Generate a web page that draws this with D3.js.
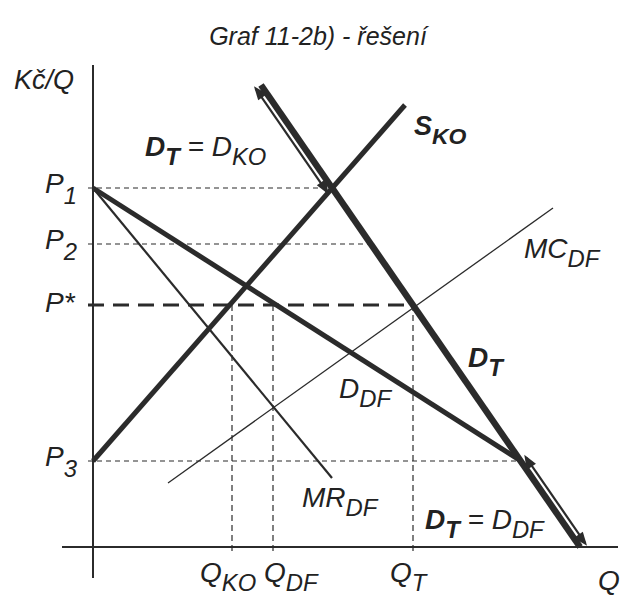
<!DOCTYPE html>
<html>
<head>
<meta charset="utf-8">
<script src="https://cdn.jsdelivr.net/npm/d3@7"></script>
<style>
  body { margin: 0; background: #fff; }
  text { font-family: "Liberation Sans", Arial, sans-serif; font-style: italic; fill: #222; }
</style>
</head>
<body>
<svg id="graf"></svg>
<script>
// price levels (Kč/Q) and quantities
var priceNames = ["1", "2", "*", "3"];
var priceLevels = [71.8, 60.6, 48.4, 17.2];
var quantityNames = ["KO", "DF", "T"];
var quantityLevels = [27.8, 36, 64];

// curves as [Q, Kč/Q] end points
var supplyKO = [[0, 17.2], [62.4, 88.4]];
var demandT = [[33.6, 92.4], [97.4, 0]];
var demandDF = [[0, 71.8], [85.6, 17.2]];
var mrDF = [[0, 71.8], [47.8, 13.8]];
var mcDF = [[15, 12.8], [92, 67.8]];

var ink = "#2b2b2b";

function graf() {
    var width = 620, height = 595;
    var svg = d3.select("#graf").attr("width", width).attr("height", height);

    var x = d3.scaleLinear().domain([0, 100]).range([93, 593]);
    var y = d3.scaleLinear().domain([0, 100]).range([547, 47]);
    var line = d3.line().x(function (d) { return x(d[0]); }).y(function (d) { return y(d[1]); });

    // Q on a straight curve for a given price
    function qOn(c, p) {
        return c[0][0] + (p - c[0][1]) * (c[1][0] - c[0][0]) / (c[1][1] - c[0][1]);
    }

    // axes
    svg.append("line").attr("x1", x(0)).attr("x2", x(0)).attr("y1", 65).attr("y2", 578)
       .attr("stroke", ink).attr("stroke-width", 2);
    svg.append("line").attr("x1", 62).attr("x2", 618).attr("y1", y(0)).attr("y2", y(0))
       .attr("stroke", ink).attr("stroke-width", 2);

    // horizontal guides
    svg.selectAll(".hguide").data(priceLevels).enter().append("line")
       .attr("class", "hguide")
       .attr("x1", x(-1))
       .attr("x2", function (p) { return x(qOn(demandT, p)); })
       .attr("y1", function (p) { return y(p); })
       .attr("y2", function (p) { return y(p); })
       .attr("stroke", ink)
       .attr("stroke-width", function (p, i) { return i == 2 ? 2.8 : 1.1; })
       .attr("stroke-dasharray", function (p, i) { return i == 2 ? "16,9" : "5,4"; });

    // vertical guides down from P*
    svg.selectAll(".vguide").data(quantityLevels).enter().append("line")
       .attr("class", "vguide")
       .attr("x1", function (q) { return x(q); })
       .attr("x2", function (q) { return x(q); })
       .attr("y1", y(priceLevels[2]))
       .attr("y2", y(-1.6))
       .attr("stroke", ink).attr("stroke-width", 1.2).attr("stroke-dasharray", "6,4");

    // thin curves
    svg.append("path").attr("d", line(mcDF)).attr("fill", "none").attr("stroke", ink).attr("stroke-width", 1.3);
    svg.append("path").attr("d", line(mrDF)).attr("fill", "none").attr("stroke", ink).attr("stroke-width", 2.2);

    // thick curves
    svg.append("path").attr("d", line(supplyKO)).attr("fill", "none").attr("stroke", ink).attr("stroke-width", 5);
    svg.append("path").attr("d", line(demandDF)).attr("fill", "none").attr("stroke", ink).attr("stroke-width", 5);
    svg.append("path").attr("d", line(demandT)).attr("fill", "none").attr("stroke", ink).attr("stroke-width", 6.5);

    // double arrows along D_T
    function doubleArrow(pFrom, pTo, side) {
        var a = [x(qOn(demandT, pFrom)), y(pFrom)];
        var b = [x(qOn(demandT, pTo)), y(pTo)];
        var dx = b[0] - a[0], dy = b[1] - a[1], len = Math.hypot(dx, dy);
        var ux = dx / len, uy = dy / len;
        var nx = -uy * side, ny = ux * side;
        var off = 6.5;
        var a2 = [a[0] + nx * off, a[1] + ny * off], b2 = [b[0] + nx * off, b[1] + ny * off];
        svg.append("line").attr("x1", a2[0]).attr("y1", a2[1]).attr("x2", b2[0]).attr("y2", b2[1])
           .attr("stroke", ink).attr("stroke-width", 2.2);
        function head(e, dir) {
            var tip = [e[0] + ux * dir * 3, e[1] + uy * dir * 3];
            var bc = [e[0] - ux * dir * 11, e[1] - uy * dir * 11];
            var pts = [tip, [bc[0] + nx * 4.5, bc[1] + ny * 4.5], [bc[0] - nx * off, bc[1] - ny * off]];
            svg.append("path").attr("d", "M" + pts.join("L") + "Z").attr("fill", ink);
        }
        head(a2, -1);
        head(b2, 1);
    }
    doubleArrow(demandT[0][1], priceLevels[0], 1);
    doubleArrow(priceLevels[3], 0, -1);

    // text with subscripts, parts: [text, sub, bold]
    function label(x0, y0, parts, size, drop) {
        drop = drop || 9;
        var t = svg.append("text").attr("x", x0).attr("y", y0).style("font-size", size + "px");
        var down = false;
        parts.forEach(function (pt) {
            var s = t.append("tspan").text(pt[0]);
            if (pt[1] && !down) { s.attr("dy", drop); down = true; }
            else if (!pt[1] && down) { s.attr("dy", -drop); down = false; }
            if (pt[1]) s.style("font-size", (size * 0.85) + "px");
            if (pt[2]) s.style("font-weight", "bold");
        });
        return t;
    }

    svg.append("text").attr("x", 318).attr("y", 45).attr("text-anchor", "middle")
       .style("font-size", "25px").text("Graf 11-2b) - řešení");
    label(14, 89, [["Kč/Q"]], 27);

    priceLevels.forEach(function (p, i) {
        if (priceNames[i] == "*") label(45, y(p) + 7, [["P*"]], 28);
        else label(45, y(p) + 5, [["P"], [priceNames[i], true]], 28, 11);
    });

    var qStart = [200, 264, 390];
    quantityLevels.forEach(function (q, i) {
        label(qStart[i], 582, [["Q"], [quantityNames[i], true]], 28, 9);
    });
    label(598, 590, [["Q"]], 28);

    label(145, 156, [["D", false, true], ["T", true, true], [" = D"], ["KO", true]], 28);
    label(414, 135, [["S", false, true], ["KO", true, true]], 27);
    label(524, 258, [["MC"], ["DF", true]], 28);
    label(468, 367, [["D", false, true], ["T", true, true]], 28);
    label(339, 398, [["D"], ["DF", true]], 28);
    label(302, 507, [["MR"], ["DF", true]], 28);
    label(425, 529, [["D", false, true], ["T", true, true], [" = D"], ["DF", true]], 28);
}

graf();
</script>
</body>
</html>
